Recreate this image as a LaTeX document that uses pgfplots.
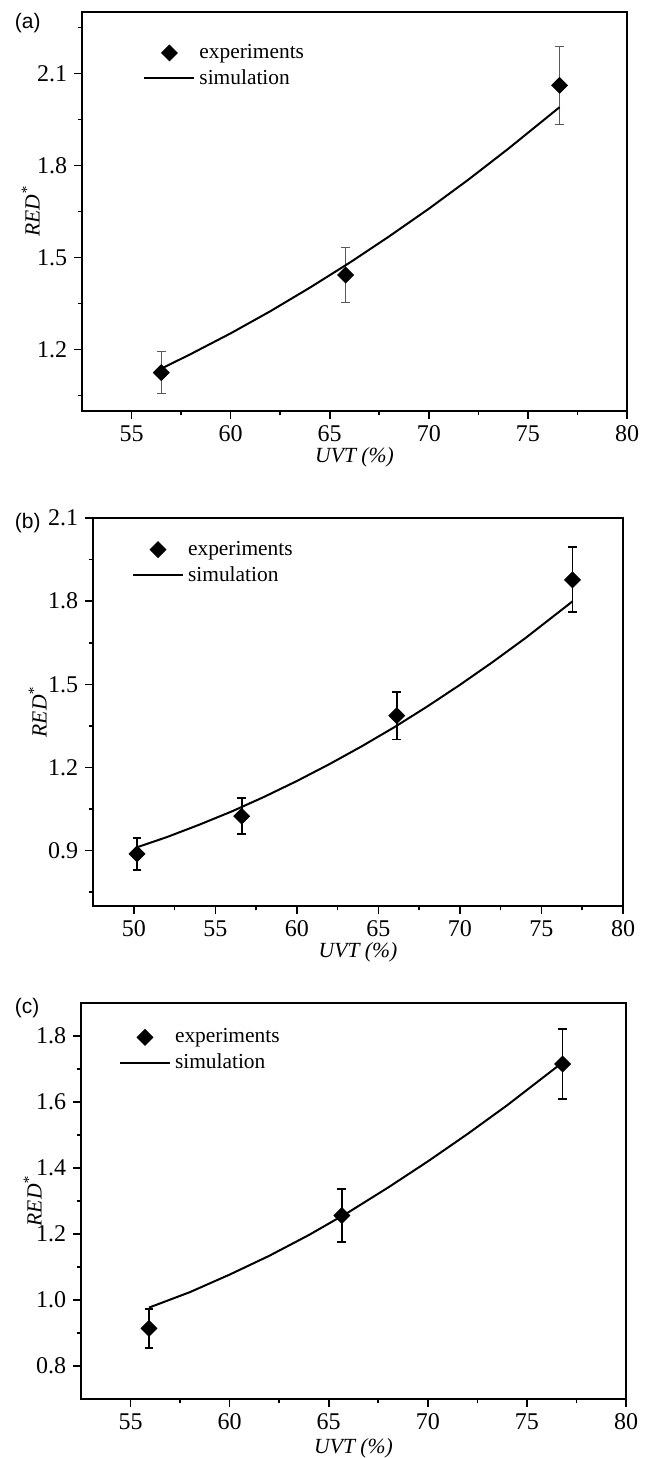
\documentclass[border=0pt]{standalone}
\usepackage{fontspec}
\setmainfont{Liberation Serif}
\newfontfamily\labelsans{Liberation Sans}
\usepackage{pgfplots}
\pgfplotsset{compat=1.18}

\pgfplotsset{
  panel/.style={
    scale only axis,
    anchor=north west,
    tick align=outside,
    tick pos=left,
    axis line style={line width=1pt},
    every tick/.style={black, line width=0.8pt},
    major tick length=3.9pt,
    minor tick length=2.2pt,
    tick label style={font=\fontsize{12}{14}\selectfont},
    /pgf/number format/assume math mode=true,
    yticklabel style={/pgf/number format/.cd, fixed, fixed zerofill, precision=1},
    xlabel={UVT (\%)},
    ylabel={RED\textsuperscript{*}},
    every axis x label/.style={anchor=north, inner sep=0pt,
      font=\fontsize{10.8}{12}\selectfont\itshape},
    every axis y label/.style={anchor=south, rotate=90, inner sep=0pt,
      font=\fontsize{10.8}{12}\selectfont\itshape},
    legend style={draw=none, fill=none, anchor=north west,
      font=\fontsize{10.7}{12}\selectfont, inner sep=0pt, row sep=0pt,
      cells={anchor=west}},
    legend image code/.code={\draw[mark repeat=2,mark phase=2,##1] plot coordinates {(0pt,0pt) (12.5pt,0pt) (25pt,0pt)};},
  },
  expt/.style 2 args={only marks, black, mark=square*, mark size=2.8pt,
    mark options={rotate=45, fill=black, draw=black},
    error bars/.cd, y dir=both, y explicit,
    error mark options={rotate=90, mark size=2.2pt, line width=#1, #2},
    error bar style={line width=#1, #2}},
  sim/.style={black, line width=1pt, no marks},
}

\begin{document}
\begin{tikzpicture}
\path[use as bounding box] (0,0) rectangle (324.5pt,-729pt);

% ---------------- (a)
\node[anchor=north west, inner sep=0pt, font=\labelsans\fontsize{10.5}{12}\selectfont] at (7.3pt,-6.3pt) {(a)};
\begin{axis}[panel, at={(41pt,-6pt)}, width=272.5pt, height=199.5pt,
  xmin=52.5, xmax=80, ymin=1.0, ymax=2.3,
  xtick={55,60,65,70,75,80}, minor xtick={57.5,62.5,67.5,72.5,77.5},
  ytick={1.2,1.5,1.8,2.1}, minor ytick={1.05,1.35,1.65,1.95,2.25},
  xlabel style={at={(axis description cs:0.5,-0.0915)}},
  ylabel style={at={(axis description cs:-0.077,0.5)}},
  legend style={at={(0.112,0.93)}}]
\addplot[expt={0.5pt}{gray!70!black}] table[x=x, y=y, y error=e] {
x     y     e
56.5  1.125 0.069
65.8  1.443 0.090
76.6  2.061 0.128
};
\addlegendentry{experiments}
\addplot[sim] table {
56.5 1.138
58   1.186
60   1.253
62   1.325
64   1.402
66   1.483
68   1.569
70   1.659
72   1.754
74   1.854
76.6 1.990
};
\addlegendentry{simulation}
\end{axis}

% ---------------- (b)
\node[anchor=north west, inner sep=0pt, font=\labelsans\fontsize{10.5}{12}\selectfont] at (7.3pt,-256.3pt) {(b)};
\begin{axis}[panel, at={(46.5pt,-259pt)}, width=265pt, height=194pt,
  xmin=47.5, xmax=80, ymin=0.7, ymax=2.1,
  xtick={50,55,60,65,70,75,80}, minor xtick={52.5,57.5,62.5,67.5,72.5,77.5},
  ytick={0.9,1.2,1.5,1.8,2.1}, minor ytick={0.75,1.05,1.35,1.65,1.95},
  xlabel style={at={(axis description cs:0.5,-0.094)}},
  ylabel style={at={(axis description cs:-0.0868,0.5)}},
  legend style={at={(0.073,0.952)}}]
\addplot[expt={0.9pt}{black}] table[x=x, y=y, y error=e] {
x     y     e
50.2  0.888 0.057
56.62 1.024 0.065
66.13 1.387 0.086
76.9  1.877 0.117
};
\addlegendentry{experiments}
\addplot[sim] table {
50.2 0.912
52   0.948
54   0.993
56   1.041
58   1.094
60   1.151
62   1.212
64   1.277
66   1.346
68   1.420
70   1.498
72   1.580
74   1.666
76.9 1.799
};
\addlegendentry{simulation}
\end{axis}

% ---------------- (c)
\node[anchor=north west, inner sep=0pt, font=\labelsans\fontsize{10.5}{12}\selectfont] at (7.3pt,-499pt) {(c)};
\begin{axis}[panel, at={(40.5pt,-501.5pt)}, width=272.5pt, height=198pt,
  xmin=52.5, xmax=80, ymin=0.7, ymax=1.9,
  xtick={55,60,65,70,75,80}, minor xtick={57.5,62.5,67.5,72.5,77.5},
  ytick={0.8,1.0,1.2,1.4,1.6,1.8}, minor ytick={0.9,1.1,1.3,1.5,1.7},
  xlabel style={at={(axis description cs:0.5,-0.0985)}},
  ylabel style={at={(axis description cs:-0.0716,0.5)}},
  legend style={at={(0.069,0.946)}}]
\addplot[expt={0.9pt}{black}] table[x=x, y=y, y error=e] {
x     y     e
55.93 0.914 0.059
65.66 1.256 0.080
76.8  1.715 0.107
};
\addlegendentry{experiments}
\addplot[sim] table {
55.93 0.977
58    1.024
60    1.077
62    1.134
64    1.197
66    1.266
68    1.341
70    1.420
72    1.503
74    1.590
76.8  1.720
};
\addlegendentry{simulation}
\end{axis}
\end{tikzpicture}
\end{document}
